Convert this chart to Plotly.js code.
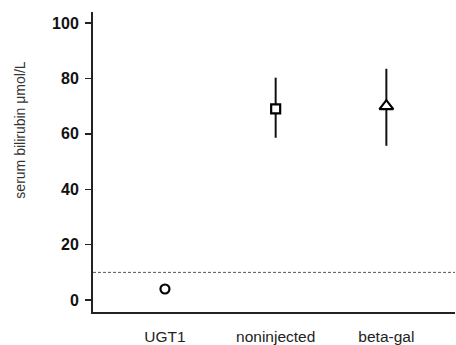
<!DOCTYPE html>
<html><head><meta charset="utf-8">
<script src="https://cdn.plot.ly/plotly-3.0.1.min.js"></script>
<style>html,body{margin:0;padding:0;background:#fff}#c{width:456px;height:345px}</style>
</head><body><div id="c"></div>
<script>
var categories = ["UGT1", "noninjected", "beta-gal"];
var means = [4, 69, 70];
var errPlus = [0, 11.3, 13.5];
var errMinus = [0, 10.4, 14.3];
var symbols = ["circle", "square", "triangle-up"];
var sizes = [9, 9, 12];
var normalLevel = 10;
var yTicks = [0, 20, 40, 60, 80, 100];
var yTitle = "serum bilirubin μmol/L";

var trace = {
  type: "scatter", mode: "markers",
  x: categories, y: means,
  error_y: {type: "data", symmetric: false, array: errPlus, arrayminus: errMinus,
            color: "#111", thickness: 2, width: 0, visible: true},
  marker: {symbol: symbols, size: sizes, color: "#fff", opacity: 1,
           line: {color: "#000", width: 2.2}},
  showlegend: false, hoverinfo: "skip"
};
var layout = {
  width: 456, height: 345,
  margin: {l: 93, r: 1, t: 12, b: 33},
  paper_bgcolor: "#fff", plot_bgcolor: "#fff",
  font: {family: "Liberation Sans, Arial, sans-serif", color: "#1a1a1a"},
  xaxis: {type: "category", range: [-0.65, 2.62], showline: true, linewidth: 2, linecolor: "#222",
          ticks: "", showgrid: false, zeroline: false, ticklabelstandoff: 9,
          tickfont: {size: 15.5, color: "#222"}},
  yaxis: {range: [-4.3, 104], tickvals: yTicks, ticktext: yTicks.map(String),
          showline: true, linewidth: 2, linecolor: "#222", ticks: "outside", ticklen: 6, tickwidth: 1.5,
          tickcolor: "#222", showgrid: false, zeroline: false, ticklabelstandoff: 3,
          tickfont: {size: 16, color: "#111", weight: "bold"}},
  annotations: [{text: yTitle, textangle: -90, xref: "paper", yref: "paper",
                 x: -0.204, y: 0.605, xanchor: "center", yanchor: "middle", showarrow: false,
                 font: {size: 14, color: "#333"}}],
  shapes: [{type: "line", xref: "paper", x0: 0, x1: 1, yref: "y", y0: normalLevel, y1: normalLevel,
            line: {color: "#555", width: 1, dash: "3px,2px"}}]
};
Plotly.newPlot("c", [trace], layout, {staticPlot: true, displayModeBar: false});
</script></body></html>
